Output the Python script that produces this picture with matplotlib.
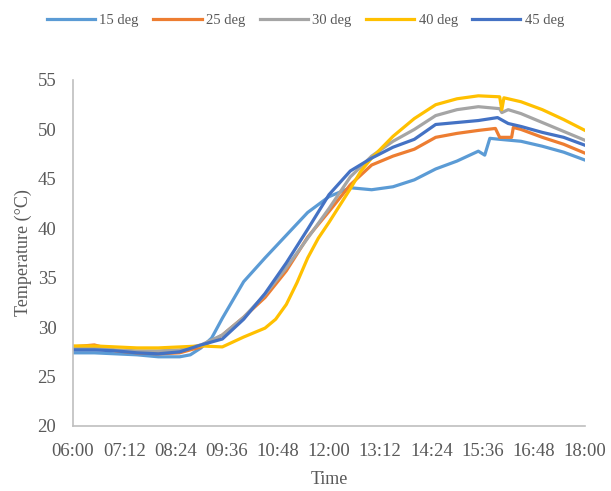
import matplotlib
matplotlib.use("Agg")
import matplotlib.pyplot as plt

# ---- data (hours of day, temperature in °C) ----
t15 = [6.0, 6.5, 7.0, 7.5, 8.0, 8.5, 8.75, 9.0, 9.25, 9.5, 10.0, 10.5, 11.0, 11.5, 12.0, 12.5,
       13.0, 13.5, 14.0, 14.5, 15.0, 15.5, 15.65, 15.77, 16.0, 16.5, 17.0, 17.5, 18.0]
v15 = [27.4, 27.4, 27.3, 27.2, 27.0, 27.0, 27.2, 27.9, 28.9, 30.9, 34.6, 37.0, 39.3, 41.6, 43.2, 44.1,
       43.9, 44.2, 44.9, 46.0, 46.8, 47.8, 47.4, 49.1, 49.0, 48.8, 48.3, 47.7, 46.9]

t25 = [6.0, 6.5, 7.0, 7.5, 8.0, 8.5, 9.0, 9.5, 10.0, 10.5, 11.0, 11.5, 12.0, 12.5, 13.0, 13.5,
       14.0, 14.5, 15.0, 15.5, 15.9, 16.0, 16.28, 16.32, 16.5, 17.0, 17.5, 18.0]
v25 = [28.0, 28.2, 27.6, 27.4, 27.3, 27.4, 28.0, 29.2, 31.0, 33.0, 35.7, 39.1, 41.7, 44.4, 46.4, 47.3,
       48.0, 49.2, 49.6, 49.9, 50.1, 49.2, 49.2, 50.2, 50.0, 49.2, 48.5, 47.6]

t30 = [6.0, 6.5, 7.0, 7.5, 8.0, 8.5, 9.0, 9.5, 10.0, 10.5, 11.0, 11.5, 12.0, 12.5, 13.0, 13.5,
       14.0, 14.5, 15.0, 15.5, 16.0, 16.05, 16.2, 16.5, 17.0, 17.5, 18.0]
v30 = [27.9, 27.9, 27.7, 27.6, 27.6, 27.7, 28.2, 29.2, 31.0, 33.3, 36.0, 39.0, 42.0, 45.2, 47.3, 48.8,
       50.0, 51.4, 52.0, 52.3, 52.1, 51.7, 52.0, 51.6, 50.7, 49.8, 48.9]

t40 = [6.0, 6.5, 7.0, 7.5, 8.0, 8.5, 9.0, 9.5, 10.0, 10.5, 10.75, 11.0, 11.25, 11.5, 11.75, 12.0,
       12.25, 12.5, 12.75, 13.0, 13.5, 14.0, 14.5, 15.0, 15.5, 16.0, 16.05, 16.1, 16.5, 17.0, 17.5, 18.0]
v40 = [28.1, 28.1, 28.0, 27.9, 27.9, 28.0, 28.1, 28.0, 29.0, 29.9, 30.8, 32.3, 34.5, 37.0, 39.0, 40.6,
       42.3, 44.0, 45.8, 47.1, 49.3, 51.1, 52.5, 53.1, 53.4, 53.3, 52.0, 53.2, 52.8, 52.0, 51.0, 49.9]

t45 = [6.0, 6.5, 7.0, 7.5, 8.0, 8.5, 9.0, 9.5, 10.0, 10.5, 11.0, 11.5, 12.0, 12.5, 13.0, 13.5,
       14.0, 14.5, 15.0, 15.5, 15.95, 16.2, 16.5, 17.0, 17.5, 18.0]
v45 = [27.7, 27.7, 27.6, 27.4, 27.3, 27.5, 28.2, 28.8, 30.8, 33.4, 36.5, 39.9, 43.4, 45.8, 47.1, 48.2,
       49.0, 50.5, 50.7, 50.9, 51.2, 50.6, 50.3, 49.7, 49.2, 48.4]

series_labels = ["15 deg", "25 deg", "30 deg", "40 deg", "45 deg"]
series_colors = ["#5B9BD5", "#ED7D31", "#A5A5A5", "#FFC000", "#4472C4"]

xtick_pos = [6.0, 7.2, 8.4, 9.6, 10.8, 12.0, 13.2, 14.4, 15.6, 16.8, 18.0]
xtick_labels = ["06:00", "07:12", "08:24", "09:36", "10:48", "12:00",
                "13:12", "14:24", "15:36", "16:48", "18:00"]
ytick_pos = [20, 25, 30, 35, 40, 45, 50, 55]

# ---- figure ----
plt.rcParams['font.family'] = ['Liberation Serif', 'DejaVu Serif']
fig = plt.figure(figsize=(6.11, 4.91), dpi=100)
ax = fig.add_axes([73/611, 1-426/491, (585-73)/611, (426-80)/491])

data = [(t15, v15), (t25, v25), (t30, v30), (t40, v40), (t45, v45)]
for (t, v), lab, col in zip(data, series_labels, series_colors):
    ax.plot(t, v, color=col, lw=2.3, label=lab, solid_joinstyle='round')

ax.set_xlim(6, 18)
ax.set_ylim(20, 55)
ax.set_xticks(xtick_pos)
ax.set_xticklabels(xtick_labels)
ax.set_yticks(ytick_pos)
ax.tick_params(axis='both', length=0, labelsize=13.5, labelcolor='#595959')
ax.tick_params(axis='y', pad=12)
ax.tick_params(axis='x', pad=12)

for s in ['top', 'right']:
    ax.spines[s].set_visible(False)
for s in ['left', 'bottom']:
    ax.spines[s].set_color('#BFBFBF')
    ax.spines[s].set_linewidth(1.2)

ax.set_xlabel("Time", fontsize=13, color='#595959', labelpad=8)
ax.set_ylabel("Temperature (°C)", fontsize=13, color='#595959', labelpad=4)

fig.legend(loc='center', bbox_to_anchor=(0.5, 1-20/491), ncol=5, frameon=False,
           fontsize=10.5, handlelength=3.3, handletextpad=0.3, columnspacing=1.0,
           labelcolor='#595959')

fig.savefig("out.png", dpi=100)
